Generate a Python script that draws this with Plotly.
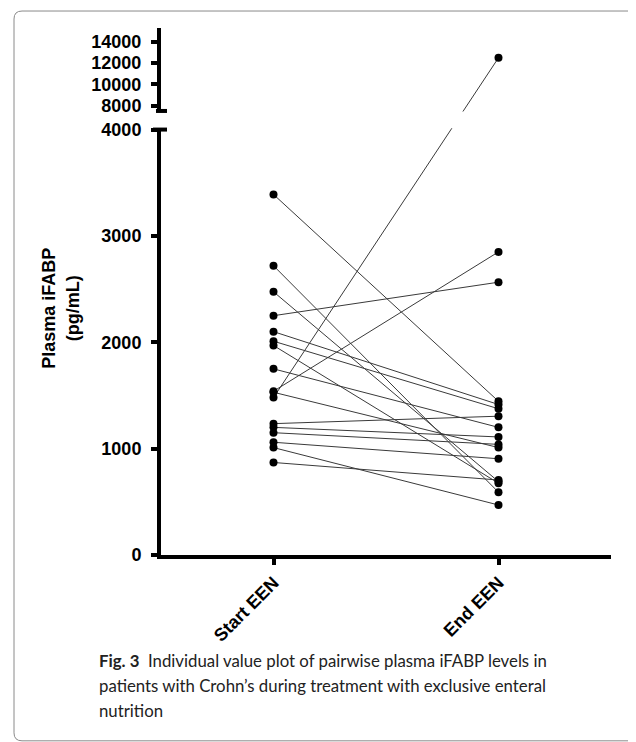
import plotly.graph_objects as go

# ---------------- data ----------------
categories = ["Start EEN", "End EEN"]
start_values = [3390, 2720, 2475, 2250, 2100, 2010, 1970, 1750, 1540, 1530,
                1480, 1235, 1200, 1150, 1060, 1010, 870]
end_values = [1445, 590, 690, 2565, 1415, 1375, 675, 1200, 2850, 1010,
              12500, 1305, 1110, 1040, 905, 470, 705]
low_ticks = [0, 1000, 2000, 3000, 4000]
high_ticks = [8000, 10000, 12000, 14000]
y_title_lines = ["Plasma iFABP", "(pg/mL)"]
caption_lines = [
    "<b>Fig. 3</b>\u00a0\u00a0Individual value plot of pairwise plasma iFABP levels in",
    "patients with Crohn\u2019s during treatment with exclusive enteral",
    "nutrition",
]

# ---------------- broken-axis scale ----------------
LOW_MAX = 4000
HIGH_MIN = 7500
HIGH_MAX = 15300
GAP = 175
HIGH_SCALE = 0.1


def to_axis(v):
    if v <= LOW_MAX:
        return v
    return LOW_MAX + GAP + (v - HIGH_MIN) * HIGH_SCALE


# ---------------- layout geometry ----------------
# page body has an 8px margin, so the figure is shrunk and coordinates shifted
OFF = 8
W, H = 636 - OFF, 742 - OFF
ML, MR, MT, MB = 161 - OFF, 25, 27.5 - OFF, 187
PW, PH = W - ML - MR, H - MT - MB


def px_x(px):
    return (px - OFF - ML) / PW


def px_y(py):
    return 1 - (py - OFF - MT) / PH


FONT = "Arial, Liberation Sans, Helvetica, sans-serif"
CAP_FONT = "Lato, Open Sans, sans-serif"

# ---------------- traces ----------------
line_x, line_y = [], []
for s, e in zip(start_values, end_values):
    line_x += [categories[0], categories[1], None]
    line_y += [to_axis(s), to_axis(e), None]

fig = go.Figure()
fig.add_trace(go.Scatter(
    x=line_x, y=line_y, mode="lines",
    line=dict(color="#3a3a3a", width=1), hoverinfo="skip", showlegend=False,
))
pt_x = [categories[0]] * len(start_values) + [categories[1]] * len(end_values)
pt_y = [to_axis(v) for v in start_values] + [to_axis(v) for v in end_values]
fig.add_trace(go.Scatter(
    x=pt_x, y=pt_y, mode="markers",
    marker=dict(color="black", size=8, line=dict(width=0)),
    showlegend=False, cliponaxis=False,
))

all_ticks = low_ticks + high_ticks
fig.update_layout(
    width=W, height=H,
    margin=dict(l=ML, r=MR, t=MT, b=MB, pad=0),
    paper_bgcolor="white", plot_bgcolor="white",
    showlegend=False,
    xaxis=dict(
        type="category", categoryorder="array", categoryarray=categories,
        range=[-0.5, 1.5], showgrid=False, zeroline=False,
        showline=True, linewidth=4, linecolor="black",
        ticks="outside", ticklen=6, tickwidth=4, tickcolor="black",
        tickangle=-45,
        tickfont=dict(family=FONT, size=18, color="black", weight="bold"),
    ),
    yaxis=dict(
        range=[0, to_axis(HIGH_MAX)], showgrid=False, zeroline=False,
        showline=True, linewidth=4, linecolor="black",
        ticks="outside", ticklen=6, tickwidth=4, tickcolor="black",
        tickvals=[to_axis(v) for v in all_ticks],
        ticktext=[str(v) for v in all_ticks],
        ticklabelstandoff=6,
        tickfont=dict(family=FONT, size=18, color="black", weight="bold"),
    ),
)

shapes = []
# axis break: white band interrupting axis and lines
shapes.append(dict(
    type="rect", xref="paper", yref="y", layer="above",
    x0=px_x(155.5), x1=1.05, y0=to_axis(LOW_MAX) + 12, y1=to_axis(HIGH_MIN) - 6,
    fillcolor="white", line=dict(width=0),
))
# caps at the break
shapes.append(dict(
    type="line", xref="paper", yref="y", layer="above",
    x0=px_x(153), x1=px_x(167), y0=to_axis(LOW_MAX), y1=to_axis(LOW_MAX),
    line=dict(color="black", width=4),
))
shapes.append(dict(
    type="line", xref="paper", yref="y", layer="above",
    x0=px_x(156), x1=px_x(167), y0=to_axis(HIGH_MIN), y1=to_axis(HIGH_MIN),
    line=dict(color="black", width=4),
))
# figure frame (rounded left corners)
fx0, fy0, fy1, r = 14, 10.5, 741, 8
path = (
    f"M {px_x(650)},{px_y(fy0)} L {px_x(fx0 + r)},{px_y(fy0)} "
    f"Q {px_x(fx0)},{px_y(fy0)} {px_x(fx0)},{px_y(fy0 + r)} "
    f"L {px_x(fx0)},{px_y(fy1 - r)} "
    f"Q {px_x(fx0)},{px_y(fy1)} {px_x(fx0 + r)},{px_y(fy1)} "
    f"L {px_x(650)},{px_y(fy1)}"
)
shapes.append(dict(
    type="path", xref="paper", yref="paper", path=path, layer="above",
    line=dict(color="#8a8a8a", width=1),
))
fig.update_layout(shapes=shapes)

annotations = []
annotations.append(dict(
    xref="paper", yref="paper", x=px_x(84), y=px_y(308),
    xanchor="right", yanchor="middle", textangle=-90, showarrow=False,
    text="<br>".join(y_title_lines), align="center",
    font=dict(family=FONT, size=18, color="black", weight="bold"),
))
for i, line in enumerate(caption_lines):
    annotations.append(dict(
        xref="paper", yref="paper", x=px_x(97), y=px_y(661 + 25 * i),
        xanchor="left", yanchor="middle", showarrow=False, align="left",
        text=line, font=dict(family=CAP_FONT, size=16.8, color="#222222"),
    ))
fig.update_layout(annotations=annotations)

fig.write_html("out.html")
